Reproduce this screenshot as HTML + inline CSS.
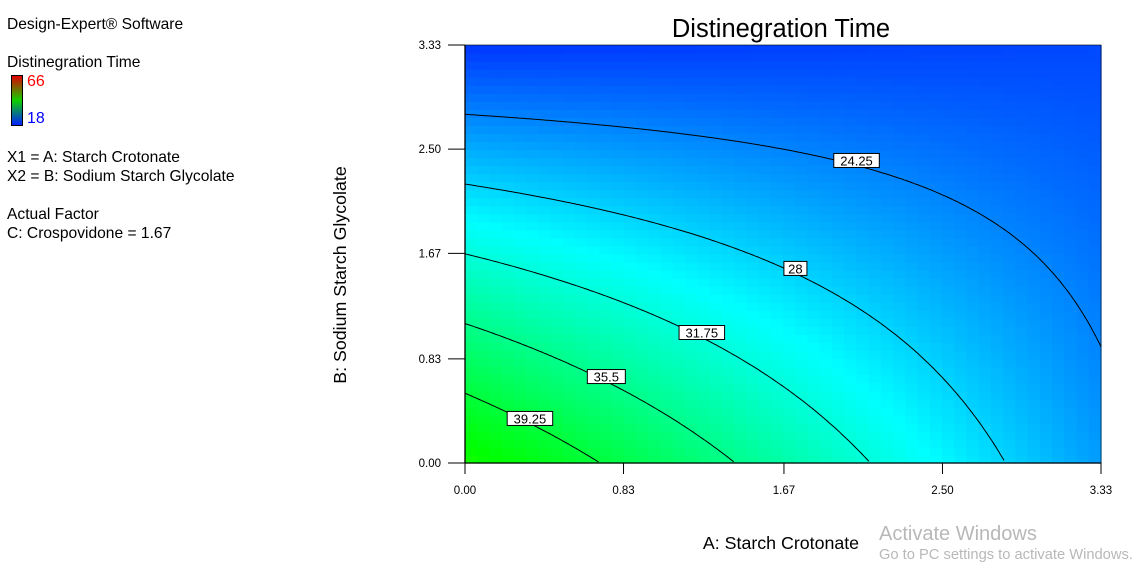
<!DOCTYPE html>
<html><head><meta charset="utf-8">
<style>
body{margin:0;background:#fff;width:1146px;height:575px;overflow:hidden;font-family:"Liberation Sans",Arial,sans-serif;}
.t{position:absolute;font-size:15.6px;color:#000;white-space:nowrap}
svg{position:absolute;left:0;top:0}
</style></head><body>
<div class="t" style="left:7px;top:16px">Design-Expert® Software</div>
<div class="t" style="left:7px;top:54px">Distinegration Time</div>
<div style="position:absolute;left:11px;top:75px;width:10px;height:49px;border:1px solid #000;background:linear-gradient(to bottom,#e00000,#10d000 50%,#0020ff)"></div>
<div class="t" style="left:27px;top:73px;color:#f00;font-size:16px">66</div>
<div class="t" style="left:27px;top:110px;color:#00f;font-size:16px">18</div>
<div class="t" style="left:7px;top:149px">X1 = A: Starch Crotonate</div>
<div class="t" style="left:7px;top:168px">X2 = B: Sodium Starch Glycolate</div>
<div class="t" style="left:7px;top:206px">Actual Factor</div>
<div class="t" style="left:7px;top:225px">C: Crospovidone = 1.67</div>
<div class="t" style="left:879px;top:523px;color:#b8b8b8;font-size:20px">Activate Windows</div>
<div class="t" style="left:879px;top:547px;color:#b8b8b8;font-size:14.7px">Go to PC settings to activate Windows.</div>
<svg id="chart" width="1146" height="575"></svg>
<script>
const xTicks=[0,0.83,1.67,2.50,3.33];
const yTicks=[0,0.83,1.67,2.50,3.33];
const xTickLabels=["0.00","0.83","1.67","2.50","3.33"];
const yTickLabels=["0.00","0.83","1.67","2.50","3.33"];
// fitted model f = c0 + cA*a + cB*b + cAB*a*b
const modelCoef=[43,-5.3,-6.75,1.67];
const contourLevels=[24.25,28,31.75,35.5,39.25];
const labelA=[2.05,1.73,1.24,0.74,0.34];
const colorMin=18,colorMax=66;
const X0=465,X1=1101,Y0=463,Y1=45,DMAX=3.33;
const sx=v=>X0+(X1-X0)*v/DMAX, sy=v=>Y0-(Y0-Y1)*v/DMAX;
const NS="http://www.w3.org/2000/svg";
const svg=document.getElementById('chart');
function mk(t,at){const e=document.createElementNS(NS,t);for(const k in at)e.setAttribute(k,at[k]);svg.appendChild(e);return e;}
const f=(a,b)=>modelCoef[0]+modelCoef[1]*a+modelCoef[2]*b+modelCoef[3]*a*b;
function col(v){let t=(v-colorMin)/(colorMax-colorMin);t=Math.max(0,Math.min(1,t));
 const stops=[[0,0,255],[0,255,255],[0,255,0],[255,255,0],[255,0,0]];
 const s=t*4,i=Math.min(3,Math.floor(s)),u=s-i;const c=stops[i].map((x,k)=>Math.round(x+(stops[i+1][k]-x)*u));
 return `rgb(${c[0]},${c[1]},${c[2]})`;}
const N=52;const g=mk('g',{});


for(let i=0;i<N;i++)for(let j=0;j<N;j++){
 const a=(i+0.5)*DMAX/N,b=(j+0.5)*DMAX/N;
 const r=document.createElementNS(NS,'rect');
 r.setAttribute('x',sx(i*DMAX/N));r.setAttribute('y',sy((j+1)*DMAX/N));
 r.setAttribute('width',(X1-X0)/N+0.6);r.setAttribute('height',(Y0-Y1)/N+0.6);
 r.setAttribute('fill',col(f(a,b)));
 
 
 g.appendChild(r);}
function bOf(L,a){return (modelCoef[0]-L+modelCoef[1]*a)/(-modelCoef[2]-modelCoef[3]*a);}
contourLevels.forEach((L,k)=>{
 let pts=[];
 for(let s=0;s<=400;s++){const a=s*DMAX/400;const b=bOf(L,a);if(b>=0&&b<=DMAX)pts.push(sx(a).toFixed(1)+','+sy(b).toFixed(1));}
 const p=mk('polyline',{points:pts.join(' '),fill:'none',stroke:'#000','stroke-width':1});
 
 
 const a=labelA[k],b=bOf(L,a),cx=sx(a),cy=sy(b)-5;
 const txt=String(L);const w=txt.length*7.5+8;
 const r=mk('rect',{x:cx-w/2,y:cy-7,width:w,height:14,fill:'#fff',stroke:'#000','stroke-width':1});
 
 
 const t=mk('text',{x:cx,y:cy+5,'text-anchor':'middle','font-size':13,'font-family':'Liberation Sans, sans-serif'});t.textContent=txt;
 
 
});
const ax=mk('path',{d:`M${X0},${Y1}V${Y0}H${X1}`,stroke:'#000',fill:'none','stroke-width':1.3});


const fr=mk('rect',{x:X0,y:Y1,width:X1-X0,height:Y0-Y1,fill:'none',stroke:'#000','stroke-width':0.6});


xTicks.forEach((v,i)=>{const x=sx(v);
 const l=mk('line',{x1:x,x2:x,y1:Y0,y2:Y0+11,stroke:'#000'});
 
 
 const t=mk('text',{x:x,y:Y0+31,'text-anchor':'middle','font-size':11.5,'font-family':'Liberation Sans, sans-serif'});t.textContent=xTickLabels[i];
 
 });
yTicks.forEach((v,i)=>{const y=sy(v);
 const l=mk('line',{x1:X0-17,x2:X0,y1:y,y2:y,stroke:'#000'});
 
 
 const t=mk('text',{x:X0-24,y:y+4,'text-anchor':'end','font-size':11.5,'font-family':'Liberation Sans, sans-serif'});t.textContent=yTickLabels[i];
 
 });
const ti=mk('text',{x:781,y:37,'text-anchor':'middle','font-size':25.5,'font-family':'Liberation Sans, sans-serif'});ti.textContent='Distinegration Time';


const xt=mk('text',{x:781,y:549,'text-anchor':'middle','font-size':17.8,'font-family':'Liberation Sans, sans-serif'});xt.textContent='A: Starch Crotonate';


const yt=mk('text',{x:0,y:0,'text-anchor':'middle','font-size':17.8,'font-family':'Liberation Sans, sans-serif',transform:'translate(346,275) rotate(-90)'});yt.textContent='B: Sodium Starch Glycolate';


</script>
</body></html>
